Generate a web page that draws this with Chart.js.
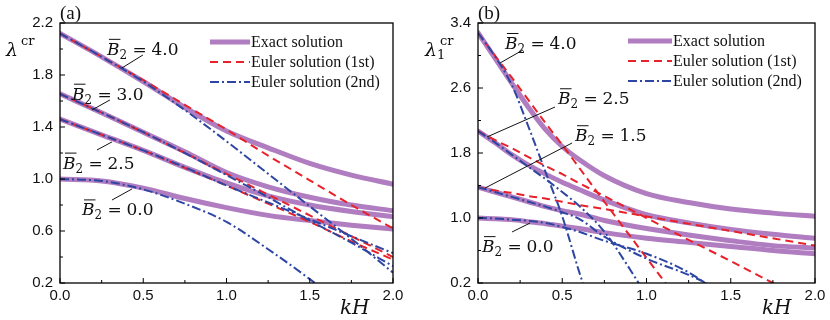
<!DOCTYPE html>
<html>
<head>
<meta charset="utf-8">
<script src="https://cdn.jsdelivr.net/npm/chart.js@4.4.0/dist/chart.umd.min.js"></script>
<style>
html, body { margin: 0; padding: 0; background: #fff; }
#wrap { position: relative; width: 830px; height: 320px; }
.pane { position: absolute; top: 0; width: 415px; height: 320px; }
</style>
</head>
<body>
<div id="wrap">
  <div class="pane" style="left:0"><canvas id="chartA" width="415" height="320"></canvas></div>
  <div class="pane" style="left:415px"><canvas id="chartB" width="415" height="320"></canvas></div>
</div>
<script>
// panel (a): lambda^cr vs kH
const kHA = [0, 0.25, 0.5, 0.75, 1.0, 1.25, 1.5, 1.75, 2.0];
const exactA40 = [2.12, 1.94, 1.75, 1.55, 1.37, 1.24, 1.12, 1.03, 0.96];
const exactA30 = [1.655, 1.51, 1.36, 1.21, 1.05, 0.94, 0.86, 0.80, 0.756];
const exactA25 = [1.46, 1.34, 1.22, 1.09, 0.97, 0.87, 0.80, 0.75, 0.71];
const exactA00 = [1.0, 0.985, 0.93, 0.85, 0.78, 0.72, 0.68, 0.645, 0.615];
const euler1A40 = [2.12, 1.94, 1.76, 1.57, 1.38, 1.18, 0.99, 0.80, 0.62];
const euler1A30 = [1.655, 1.51, 1.36, 1.20, 1.04, 0.88, 0.72, 0.56, 0.40];
const euler1A25 = [1.46, 1.34, 1.22, 1.085, 0.95, 0.81, 0.67, 0.52, 0.38];
const euler2A40 = [2.12, 1.94, 1.75, 1.53, 1.29, 1.04, 0.79, 0.54, 0.28];
const euler2A30 = [1.655, 1.51, 1.36, 1.20, 1.03, 0.86, 0.68, 0.51, 0.33];
const euler2A25 = [1.46, 1.34, 1.22, 1.09, 0.95, 0.82, 0.69, 0.56, 0.43];
const euler2A00 = [1.0, 0.985, 0.92, 0.81, 0.67, 0.46, 0.23, -0.02];

// panel (b): lambda_1^cr vs kH
const kHB = [0, 0.1, 0.2, 0.3, 0.4, 0.5, 0.6, 0.75, 1.0, 1.25, 1.5, 1.75, 2.0];
const exactB40 = [3.28, 2.97, 2.66, 2.36, 2.09, 1.88, 1.72, 1.52, 1.30, 1.19, 1.11, 1.06, 1.02];
const exactB25 = [2.07, 1.93, 1.78, 1.65, 1.54, 1.44, 1.35, 1.22, 1.04, 0.94, 0.86, 0.80, 0.75];
const exactB15 = [1.38, 1.32, 1.26, 1.20, 1.14, 1.09, 1.05, 0.97, 0.87, 0.79, 0.72, 0.66, 0.63];
const exactB00 = [1.0, 0.99, 0.98, 0.955, 0.93, 0.90, 0.87, 0.82, 0.75, 0.70, 0.65, 0.60, 0.56];
const euler1B40 = [3.28, 3.00, 2.73, 2.45, 2.17, 1.90, 1.62, 1.20, 0.51, -0.18];
const euler1B25 = [2.07, 1.96, 1.86, 1.75, 1.64, 1.54, 1.43, 1.27, 1.00, 0.73, 0.47, 0.20, -0.07];
const euler1B15 = [1.38, 1.34, 1.31, 1.27, 1.24, 1.20, 1.16, 1.11, 1.02, 0.93, 0.84, 0.75, 0.66];
const euler2B40 = [3.28, 2.99, 2.64, 2.12, 1.57, 1.02, 0.34, -0.6];
const euler2B25 = [2.07, 1.93, 1.78, 1.63, 1.48, 1.32, 1.15, 0.83, 0.05];
const euler2B15 = [1.38, 1.32, 1.26, 1.20, 1.14, 1.07, 0.99, 0.77, 0.50, 0.30, 0.05];
const euler2B00 = [1.0, 0.995, 0.98, 0.965, 0.94, 0.89, 0.83, 0.72, 0.56, 0.33, -0.03];

const xTicks = ['0.0', '0.5', '1.0', '1.5', '2.0'];
const legendNames = ['Exact solution', 'Euler solution (1st)', 'Euler solution (2nd)'];

const kindStyle = {
    exact:  {color: '#b17dc1', width: 5,   dash: [],          order: 3},
    euler1: {color: '#e8222b', width: 2,   dash: [8, 5],      order: 2},
    euler2: {color: '#2e46a3', width: 2,   dash: [9, 3, 2, 3], order: 1}
};

function series(grid, vals, kind) {
    const st = kindStyle[kind];
    return {
        kind: kind,
        data: vals.map((v, i) => ({x: grid[i], y: v})),
        borderColor: st.color,
        borderWidth: st.width,
        borderDash: st.dash,
        borderCapStyle: kind === 'exact' ? 'round' : 'butt',
        order: st.order,
        pointRadius: 0,
        fill: false,
        cubicInterpolationMode: 'monotone',
        clip: kind === 'exact' ? undefined : 0
    };
}

function drawBLabel(ctx, px, py, val) {
    ctx.fillStyle = '#111';
    ctx.strokeStyle = '#111';
    ctx.textBaseline = 'alphabetic';
    ctx.textAlign = 'left';
    ctx.font = 'italic 17px "DejaVu Serif"';
    ctx.fillText('B', px, py);
    const bw = ctx.measureText('B').width;
    ctx.lineWidth = 1;
    ctx.beginPath();
    ctx.moveTo(px + 2, py - 15.5);
    ctx.lineTo(px + bw + 1, py - 15.5);
    ctx.stroke();
    ctx.font = '12px "DejaVu Serif"';
    ctx.fillText('2', px + bw, py + 4);
    ctx.font = '17px "DejaVu Serif"';
    ctx.fillText('=', px + bw + 13, py);
    ctx.fillText(val, px + bw + 32, py);
}

const decor = {
    id: 'decor',
    afterDraw(chart, args, opts) {
        const {ctx, chartArea: ca, scales: {x, y}} = chart;
        ctx.save();
        // frame
        ctx.strokeStyle = '#000';
        ctx.lineWidth = 1.3;
        ctx.strokeRect(ca.left, ca.top, ca.right - ca.left, ca.bottom - ca.top);
        // inward ticks
        ctx.lineWidth = 1;
        ctx.beginPath();
        for (let v = 0; v <= 2.0001; v += 0.25) {
            const px = x.getPixelForValue(v);
            const len = Math.abs(v * 2 - Math.round(v * 2)) < 1e-6 ? 5 : 3;
            ctx.moveTo(px, ca.bottom);
            ctx.lineTo(px, ca.bottom - len);
        }
        for (let v = y.min; v <= y.max + 1e-6; v += opts.yStep / 2) {
            const py = y.getPixelForValue(v);
            const k = Math.round((v - y.min) / (opts.yStep / 2));
            const len = k % 2 === 0 ? 5 : 3;
            ctx.moveTo(ca.left, py);
            ctx.lineTo(ca.left + len, py);
        }
        ctx.stroke();

        // legend
        const kinds = ['exact', 'euler1', 'euler2'];
        kinds.forEach((k, i) => {
            const st = kindStyle[k];
            const ly = ca.top + opts.legend.rows[i];
            const lx = ca.left + opts.legend.x;
            ctx.strokeStyle = st.color;
            ctx.lineWidth = st.width;
            ctx.setLineDash(st.dash);
            ctx.lineCap = 'butt';
            ctx.beginPath();
            ctx.moveTo(lx, ly);
            ctx.lineTo(lx + opts.legend.w, ly);
            ctx.stroke();
            ctx.setLineDash([]);
            ctx.fillStyle = '#111';
            ctx.font = '16px "Liberation Serif"';
            ctx.textBaseline = 'middle';
            ctx.textAlign = 'left';
            ctx.fillText(legendNames[i], lx + opts.legend.w + 1, ly + 1);
        });

        // curve labels with leader lines
        opts.notes.forEach(n => {
            ctx.strokeStyle = '#111';
            ctx.lineWidth = 1;
            ctx.beginPath();
            ctx.moveTo(x.getPixelForValue(n.lead[0]), y.getPixelForValue(n.lead[1]));
            ctx.lineTo(x.getPixelForValue(n.lead[2]), y.getPixelForValue(n.lead[3]));
            ctx.stroke();
            drawBLabel(ctx, x.getPixelForValue(n.at[0]), y.getPixelForValue(n.at[1]), n.val);
        });

        // panel tag, axis titles
        ctx.fillStyle = '#111';
        ctx.textBaseline = 'alphabetic';
        ctx.textAlign = 'left';
        ctx.font = '19px "Liberation Serif"';
        ctx.fillText(opts.tag, ca.left, 19);
        ctx.font = 'italic 20px "DejaVu Serif"';
        ctx.fillText('kH', ca.right - 53, 314);
        const t = opts.ytitle;
        ctx.font = 'italic 19px "DejaVu Serif"';
        ctx.fillText('\u03bb', t.x, 56);
        const lw = ctx.measureText('\u03bb').width;
        ctx.font = '13px "DejaVu Serif"';
        ctx.fillText('cr', t.x + lw + 3, 45);
        if (t.sub) ctx.fillText(t.sub, t.x + lw, 59);
        ctx.restore();
    }
};

function makeChart(id, datasets, yMin, yMax, yStep, yWidth, padRight, opts) {
    return new Chart(document.getElementById(id), {
        type: 'line',
        data: {datasets: datasets},
        options: {
            responsive: false,
            animation: false,
            layout: {padding: {top: 23, right: padRight, left: 0, bottom: 0}},
            plugins: {
                legend: {display: false},
                tooltip: {enabled: false},
                decor: Object.assign({yStep: yStep}, opts)
            },
            scales: {
                x: {
                    type: 'linear',
                    min: 0, max: 2,
                    afterFit: s => { s.height = 37; },
                    grid: {display: false, drawTicks: false},
                    border: {display: false},
                    ticks: {
                        stepSize: 0.5,
                        padding: 4,
                        color: '#111',
                        font: {family: '"Liberation Sans"', size: 15},
                        callback: (v) => xTicks[Math.round(v * 2)]
                    }
                },
                y: {
                    min: yMin, max: yMax,
                    afterFit: s => { s.width = yWidth; },
                    grid: {display: false, drawTicks: false},
                    border: {display: false},
                    ticks: {
                        stepSize: yStep,
                        padding: 7,
                        color: '#111',
                        font: {family: '"Liberation Sans"', size: 15},
                        callback: (v) => v.toFixed(1)
                    }
                }
            }
        },
        plugins: [decor]
    });
}

const dsA = [
    series(kHA, exactA40, 'exact'), series(kHA, exactA30, 'exact'),
    series(kHA, exactA25, 'exact'), series(kHA, exactA00, 'exact'),
    series(kHA, euler1A40, 'euler1'), series(kHA, euler1A30, 'euler1'),
    series(kHA, euler1A25, 'euler1'),
    series(kHA, euler2A40, 'euler2'), series(kHA, euler2A30, 'euler2'),
    series(kHA, euler2A25, 'euler2'), series(kHA, euler2A00, 'euler2')
];
const dsB = [
    series(kHB, exactB40, 'exact'), series(kHB, exactB25, 'exact'),
    series(kHB, exactB15, 'exact'), series(kHB, exactB00, 'exact'),
    series(kHB, euler1B40, 'euler1'), series(kHB, euler1B25, 'euler1'),
    series(kHB, euler1B15, 'euler1'),
    series(kHB, euler2B40, 'euler2'), series(kHB, euler2B25, 'euler2'),
    series(kHB, euler2B15, 'euler2'), series(kHB, euler2B00, 'euler2')
];

makeChart('chartA', dsA, 0.2, 2.2, 0.4, 60, 22, {
    tag: '(a)',
    ytitle: {x: 6, sub: ''},
    legend: {x: 150, w: 40, rows: [19, 39, 59]},
    notes: [
        {val: '4.0', at: [0.282, 1.955], lead: [0.498, 1.954, 0.372, 1.854]},
        {val: '3.0', at: [0.072, 1.61], lead: [0.30, 1.608, 0.192, 1.531]},
        {val: '2.5', at: [0.018, 1.08], lead: [0.222, 1.223, 0.312, 1.285]},
        {val: '0.0', at: [0.132, 0.72], lead: [0.312, 0.838, 0.432, 0.923]}
    ]
});
makeChart('chartB', dsB, 0.2, 3.4, 0.8, 63, 15, {
    tag: '(b)',
    ytitle: {x: 10, sub: '1'},
    legend: {x: 150, w: 44, rows: [18, 38, 58]},
    notes: [
        {val: '4.0', at: [0.16, 3.08], lead: [0.267, 3.068, 0.131, 2.908]},
        {val: '2.5', at: [0.475, 2.40], lead: [0.457, 2.366, 0.053, 1.997]},
        {val: '1.5', at: [0.576, 1.945], lead: [0.558, 1.923, 0.042, 1.369]},
        {val: '0.0', at: [0.024, 0.58], lead: [0.202, 0.828, 0.309, 0.938]}
    ]
});
</script>
</body>
</html>
